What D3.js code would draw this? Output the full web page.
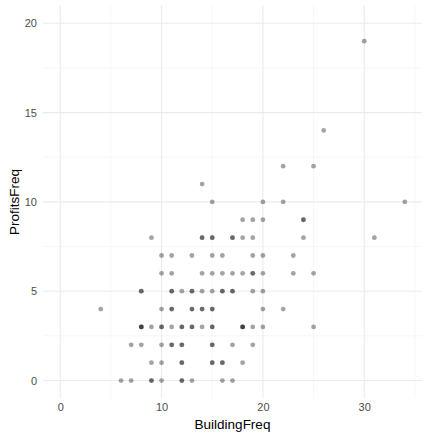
<!DOCTYPE html>
<html lang="en">
	<head>
		<meta charset="utf-8">
		<title>Profits vs Building</title>
		<script src="https://cdn.jsdelivr.net/npm/d3@7"></script>
		<style type="text/css">
			body {
				margin: 0;
				background-color: #ffffff;
				font-family: "Liberation Sans", Arial, Helvetica, sans-serif;
			}
		</style>
	</head>
	<body>
		<script type="text/javascript">

			// Data: one entry per observation (repeats = overplotted points)
			var buildingFreq = [
				6, 7, 9, 9, 10, 12, 12, 13, 16, 17,
				9, 10, 12, 12, 15, 15, 16, 16, 18,
				7, 8, 10, 11, 11, 12, 12, 15, 15, 17, 19,
				8, 8, 8, 9, 10, 10, 11, 12, 12, 13, 13, 14, 15, 15, 18, 18, 18, 19, 20, 25,
				4, 10, 11, 11, 13, 13, 14, 14, 15, 15, 20, 22,
				8, 8, 11, 11, 12, 13, 13, 14, 15, 16, 16, 17, 17, 19, 20,
				10, 11, 14, 15, 16, 17, 18, 19, 19, 20, 23, 25,
				10, 11, 13, 15, 16, 19, 20, 23,
				9, 14, 14, 15, 15, 17, 17, 18, 19, 24, 31,
				18, 19, 20, 24, 24,
				15, 20, 22, 34,
				14,
				22, 25,
				26,
				30
			];
			var profitsFreq = [
				0, 0, 0, 0, 0, 0, 0, 0, 0, 0,
				1, 1, 1, 1, 1, 1, 1, 1, 1,
				2, 2, 2, 2, 2, 2, 2, 2, 2, 2, 2,
				3, 3, 3, 3, 3, 3, 3, 3, 3, 3, 3, 3, 3, 3, 3, 3, 3, 3, 3, 3,
				4, 4, 4, 4, 4, 4, 4, 4, 4, 4, 4, 4,
				5, 5, 5, 5, 5, 5, 5, 5, 5, 5, 5, 5, 5, 5, 5,
				6, 6, 6, 6, 6, 6, 6, 6, 6, 6, 6, 6,
				7, 7, 7, 7, 7, 7, 7, 7,
				8, 8, 8, 8, 8, 8, 8, 8, 8, 8, 8,
				9, 9, 9, 9, 9,
				10, 10, 10, 10,
				11,
				12, 12,
				14,
				19
			];
			var xTicks = [0, 10, 20, 30];
			var yTicks = [0, 5, 10, 15, 20];
			var xMinor = [5, 15, 25, 35];
			var yMinor = [2.5, 7.5, 12.5, 17.5];

			var w = 432;
			var h = 439;
			var margin = {top: 5.4, right: 10, bottom: 40.6, left: 43};

			var svg = d3.select("body")
				.append("svg")
				.attr("width", w)
				.attr("height", h);

			// Scales (domain padded like ggplot's 5% expansion)
			var x = d3.scaleLinear()
				.domain([-1.7, 35.7])
				.range([margin.left, w - margin.right]);

			var y = d3.scaleLinear()
				.domain([-1, 21])
				.range([h - margin.bottom, margin.top]);

			var grid = svg.append("g").attr("class", "grid");

			// Minor gridlines
			grid.selectAll("line.xminor")
				.data(xMinor)
				.enter().append("line")
				.attr("x1", function(d) { return x(d); })
				.attr("x2", function(d) { return x(d); })
				.attr("y1", y.range()[0])
				.attr("y2", y.range()[1])
				.style("stroke", "#f0f0f0")
				.style("stroke-width", 0.6);

			grid.selectAll("line.yminor")
				.data(yMinor)
				.enter().append("line")
				.attr("y1", function(d) { return y(d); })
				.attr("y2", function(d) { return y(d); })
				.attr("x1", x.range()[0])
				.attr("x2", x.range()[1])
				.style("stroke", "#f0f0f0")
				.style("stroke-width", 0.6);

			// Major gridlines
			grid.selectAll("line.xmajor")
				.data(xTicks)
				.enter().append("line")
				.attr("x1", function(d) { return x(d); })
				.attr("x2", function(d) { return x(d); })
				.attr("y1", y.range()[0])
				.attr("y2", y.range()[1])
				.style("stroke", "#ebebeb")
				.style("stroke-width", 1.1);

			grid.selectAll("line.ymajor")
				.data(yTicks)
				.enter().append("line")
				.attr("y1", function(d) { return y(d); })
				.attr("y2", function(d) { return y(d); })
				.attr("x1", x.range()[0])
				.attr("x2", x.range()[1])
				.style("stroke", "#ebebeb")
				.style("stroke-width", 1.1);

			// Axes (labels only, like theme_minimal)
			var xAxis = svg.append("g")
				.attr("transform", "translate(0," + (h - margin.bottom) + ")")
				.call(d3.axisBottom(x).tickValues(xTicks).tickSize(0).tickPadding(5));
			xAxis.select(".domain").remove();
			xAxis.selectAll("text")
				.style("font-family", "Liberation Sans, Arial, sans-serif")
				.style("font-size", "11px")
				.style("fill", "#4d4d4d");

			var yAxis = svg.append("g")
				.attr("transform", "translate(" + margin.left + ",0)")
				.call(d3.axisLeft(y).tickValues(yTicks).tickSize(0).tickPadding(6));
			yAxis.select(".domain").remove();
			yAxis.selectAll("text")
				.style("font-family", "Liberation Sans, Arial, sans-serif")
				.style("font-size", "11px")
				.style("fill", "#4d4d4d");

			// Axis titles
			svg.append("text")
				.attr("x", (x.range()[0] + x.range()[1]) / 2)
				.attr("y", 429)
				.attr("text-anchor", "middle")
				.style("font-size", "13.5px")
				.style("fill", "#000")
				.text("BuildingFreq");

			svg.append("text")
				.attr("transform", "translate(19," + ((y.range()[0] + y.range()[1]) / 2) + ") rotate(-90)")
				.attr("text-anchor", "middle")
				.style("font-size", "13.5px")
				.style("fill", "#000")
				.text("ProfitsFreq");

			// Points
			svg.append("g")
				.selectAll("circle")
				.data(d3.range(buildingFreq.length))
				.enter().append("circle")
				.attr("cx", function(i) { return x(buildingFreq[i]); })
				.attr("cy", function(i) { return y(profitsFreq[i]); })
				.attr("r", 2.4)
				.style("fill", "#000")
				.style("fill-opacity", 0.36);

		</script>
	</body>
</html>
